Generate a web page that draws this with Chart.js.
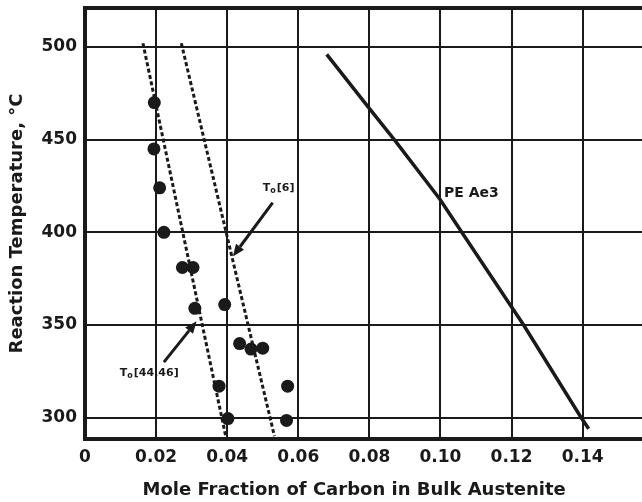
<!DOCTYPE html>
<html>
<head>
<meta charset="utf-8">
<script src="https://cdn.jsdelivr.net/npm/chart.js@4/dist/chart.umd.min.js"></script>
<style>
html,body{margin:0;padding:0;background:#fff;}
#wrap{width:642px;height:502px;}
</style>
</head>
<body>
<div id="wrap"><canvas id="c" width="642" height="502"></canvas></div>
<script>
// ---- data ----
const xTickValues = [0, 0.02, 0.04, 0.06, 0.08, 0.10, 0.12, 0.14];
const xTickLabels = ["0", "0.02", "0.04", "0.06", "0.08", "0.10", "0.12", "0.14"];
const yTickValues = [300, 350, 400, 450, 500];
const yTickLabels = ["300", "350", "400", "450", "500"];

// measured points (mole fraction C, reaction temperature)
const measuredX = [0.0195, 0.0194, 0.0210, 0.0222, 0.0274, 0.0304, 0.0309, 0.0393, 0.0435, 0.0467, 0.0500, 0.0377, 0.0402, 0.0570, 0.0567];
const measuredY = [470, 445, 424, 400, 381, 381, 359, 361, 340, 337, 337.5, 317, 299.5, 317, 298.5];

// T0 [44,46] dashed line
const t0aX = [0.0163, 0.0397];
const t0aY = [502, 289];
// T0 [6] dashed line
const t0bX = [0.0271, 0.0533];
const t0bY = [502, 290];
// PE Ae3 solid curve
const aeX = [0.068, 0.0797, 0.087, 0.0998, 0.106, 0.1194, 0.1234, 0.1396, 0.1417];
const aeY = [496, 467.5, 450, 418, 400, 361.5, 350, 300, 294];

// annotation labels (data coordinates)
const labelTexts = ["PE Ae3", "T|o|[6]", "T|o|[44,46]"];
const labelX = [0.101, 0.0500, 0.0098];
const labelY = [421, 424, 324];
// arrows: start -> tip (data coordinates)
const arrowFromX = [0.0528, 0.0222];
const arrowFromY = [416, 330];
const arrowToX = [0.0416, 0.0314];
const arrowToY = [387, 352];

const toPts = (xs, ys) => xs.map((x, i) => ({x: x, y: ys[i]}));
const INK = '#1a1a1a';

const annotPlugin = {
  id: 'annot',
  afterDatasetsDraw(chart) {
    const ctx = chart.ctx, xs = chart.scales.x, ys = chart.scales.y, ca = chart.chartArea;
    ctx.save();
    // top frame line
    ctx.strokeStyle = INK; ctx.lineWidth = 4;
    ctx.beginPath(); ctx.moveTo(ca.left - 2, ca.top); ctx.lineTo(ca.right, ca.top); ctx.stroke();
    // labels
    ctx.fillStyle = INK; ctx.textBaseline = 'middle'; ctx.textAlign = 'left';
    labelTexts.forEach((t, i) => {
      let px = xs.getPixelForValue(labelX[i]);
      const py = ys.getPixelForValue(labelY[i]);
      if (t.indexOf('|') < 0) {
        ctx.font = 'bold 14px "DejaVu Sans"';
        ctx.fillText(t, px, py);
      } else {
        const parts = t.split('|');
        ctx.font = 'bold 11px "DejaVu Sans"';
        ctx.fillText(parts[0], px, py); px += ctx.measureText(parts[0]).width;
        ctx.font = 'bold 8px "DejaVu Sans"';
        ctx.fillText(parts[1], px, py + 3); px += ctx.measureText(parts[1]).width + 1;
        ctx.font = 'bold 11px "DejaVu Sans"';
        ctx.fillText(parts[2], px, py);
      }
    });
    // arrows
    ctx.strokeStyle = INK; ctx.fillStyle = INK; ctx.lineWidth = 3;
    arrowFromX.forEach((fx, i) => {
      const x1 = xs.getPixelForValue(fx), y1 = ys.getPixelForValue(arrowFromY[i]);
      const x2 = xs.getPixelForValue(arrowToX[i]), y2 = ys.getPixelForValue(arrowToY[i]);
      const a = Math.atan2(y2 - y1, x2 - x1), L = 12, W = 5;
      const bx = x2 - L * Math.cos(a), by = y2 - L * Math.sin(a);
      ctx.beginPath(); ctx.moveTo(x1, y1); ctx.lineTo(bx, by); ctx.stroke();
      ctx.beginPath(); ctx.moveTo(x2, y2);
      ctx.lineTo(bx + W * Math.sin(a), by - W * Math.cos(a));
      ctx.lineTo(bx - W * Math.sin(a), by + W * Math.cos(a));
      ctx.closePath(); ctx.fill();
    });
    ctx.restore();
  }
};

new Chart(document.getElementById('c'), {
  type: 'scatter',
  data: {
    datasets: [
      {label: 'T0 [44,46]', data: toPts(t0aX, t0aY), showLine: true, borderColor: INK, borderWidth: 3, borderDash: [4, 2.5], pointRadius: 0, fill: false},
      {label: 'T0 [6]', data: toPts(t0bX, t0bY), showLine: true, borderColor: INK, borderWidth: 3, borderDash: [4, 2.5], pointRadius: 0, fill: false},
      {label: 'PE Ae3', data: toPts(aeX, aeY), showLine: true, borderColor: INK, borderWidth: 3.5, pointRadius: 0, fill: false, tension: 0},
      {label: 'Measured', data: toPts(measuredX, measuredY), showLine: false, pointRadius: 6.5, pointBackgroundColor: INK, pointBorderColor: INK, pointBorderWidth: 0}
    ]
  },
  options: {
    responsive: false,
    devicePixelRatio: 1,
    animation: false,
    events: [],
    layout: {autoPadding: false, padding: {top: 8, right: 0, bottom: 0, left: 0}},
    plugins: {legend: {display: false}, tooltip: {enabled: false}},
    scales: {
      x: {
        type: 'linear', min: 0, max: 0.1567,
        afterBuildTicks: (s) => { s.ticks = xTickValues.map(v => ({value: v})); },
        afterFit: (s) => { s.height = 63; s.paddingLeft = 0; s.paddingRight = 0; },
        ticks: {
          padding: 8, color: INK, font: {family: 'DejaVu Sans', weight: 'bold', size: 17},
          callback: (v) => { const i = xTickValues.findIndex(t => Math.abs(t - v) < 1e-9); return i >= 0 ? xTickLabels[i] : ''; },
          maxRotation: 0, autoSkip: false
        },
        grid: {color: INK, lineWidth: 2, drawTicks: false},
        border: {display: true, color: INK, width: 4},
        title: {display: true, text: 'Mole Fraction of Carbon in Bulk Austenite   ', color: INK, font: {family: 'DejaVu Sans', weight: 'bold', size: 18}, padding: {top: 0, bottom: 1}}
      },
      y: {
        type: 'linear', min: 288.5, max: 521,
        afterBuildTicks: (s) => { s.ticks = yTickValues.map(v => ({value: v})); },
        afterFit: (s) => { s.width = 85; s.paddingTop = 0; s.paddingBottom = 0; },
        ticks: {
          padding: 8, color: INK, font: {family: 'DejaVu Sans', weight: 'bold', size: 17},
          callback: (v) => { const i = yTickValues.indexOf(v); return i >= 0 ? yTickLabels[i] : ''; },
          autoSkip: false
        },
        grid: {color: INK, lineWidth: 2, drawTicks: false},
        border: {display: true, color: INK, width: 4},
        title: {display: true, text: 'Reaction Temperature, °C', color: INK, font: {family: 'DejaVu Sans', weight: 'bold', size: 18}, padding: {top: 7, bottom: 0}}
      }
    }
  },
  plugins: [annotPlugin]
});
</script>
</body>
</html>
